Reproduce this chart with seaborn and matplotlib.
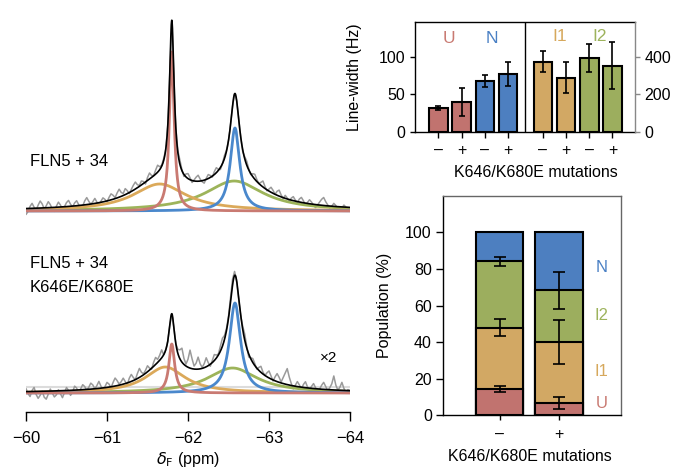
import numpy as np
import pandas as pd
import matplotlib.pyplot as plt
import seaborn as sns

W, H = 676, 472

# ---- 19F spectra: Lorentzian fit components (U, N, I1, I2)
STATES = ['U', 'N', 'I1', 'I2']
TOP_CENTERS = [-61.80, -62.58, -61.65, -62.57]
TOP_FWHM = [0.07, 0.14, 0.80, 0.88]
TOP_HEIGHTS = [159, 83, 27, 30]
BOT_CENTERS = [-61.80, -62.58, -61.72, -62.55]
BOT_FWHM = [0.085, 0.166, 0.60, 0.75]
BOT_HEIGHTS = [49, 90, 26, 25]
TOP_OFFSET = 201
BOT_OFFSET = 19

# residual of experimental trace vs. fit, every 0.025 ppm from -60 to -64
TOP_NOISE = [-6, -3, 2, 5, 1, -2, 3, 7, 4, -1, 2, 6, 3, -2, -4, 1, 5, 2, -3, 0,
             4, 6, 2, -1, 3, 5, 1, -3, -1, 4, 7, 3, 0, 2, 5, 1, -2, 1, 4, 2,
             -1, 3, 6, 4, 1, 5, 8, 4, 2, 6, 3, -1, 2, 5, 7, 3, 1, 4, 2, -2,
             3, 6, 2, 0, 4, 7, 3, 1, 2, 0, 0, 0, 0, 0, 0, 2, 4, 1, -2, 3,
             5, 2, -2, 1, 4, 6, 2, -1, -3, 1, 4, 2, -1, 3, 5, 1, -2, 0, 3, 1,
             0, 0, 0, 0, 0, 0, 0, -2, 2, 4, 1, -1, 3, 5, 2, 0, 3, 6, 2, -1,
             2, 5, 3, 0, 4, 6, 2, -1, 3, 1, -2, 2, 4, 1, -1, 3, 5, 2, -2, 1,
             4, 2, -1, -3, 0, 3, 6, 8, 4, 1, -2, 0, 3, 1, -2, -4, -1, 2, 0, -3,
             -2]
BOT_NOISE = [3, -2, -5, 1, 4, -3, -7, -4, 0, -6, -8, -3, 2, -2, -6, -4, 1, -3, -7, -2,
             3, 0, -5, -2, 4, 2, -3, 1, 5, 3, -1, 2, 6, 4, 0, 3, 7, 2, -2, 1,
             5, 3, -1, 4, 8, 5, 1, 3, 6, 2, -2, 4, 7, 3, 0, 5, 9, 4, 1, 3,
             6, 2, -1, 4, 7, 3, 5, 8, 0, 0, 0, 0, 0, 0, 0, 4, 9, 14, 6, 2,
             8, 18, 10, 3, 6, 12, 5, 1, 4, 9, 3, -2, 2, 6, 3, 1, 5, 8, 4, 2,
             2, 4, 6, 4, 0, -2, -1, 3, 6, 2, -3, 1, 4, 2, -1, 3, 6, 2, 0, 4,
             7, 3, -1, 4, 8, 5, 1, 6, 11, 16, 8, 2, -3, 1, 5, 2, -2, 3, 6, 1,
             -2, 2, 5, 1, -3, 0, 4, 7, 3, -1, 2, 6, 14, 5, 0, 3, 8, 2, -2, 1,
             0]

# ---- line widths (Hz)
LW_STATE = ['U', 'U', 'N', 'N', 'I1', 'I1', 'I2', 'I2']
LW_MUT = ['–', '+', '–', '+', '–', '+', '–', '+']
LW_POS = [0, 1, 2, 3, 4.5, 5.5, 6.5, 7.5]
LW_HZ = [32, 40, 68, 77, 375, 290, 395, 354]
LW_ERR = [2.5, 19, 8.5, 16, 57, 80, 74, 125]

# ---- populations (%)
MUT = ['–', '+']
POP_U = [14.4, 6.9]
POP_I1 = [33.5, 33.2]
POP_I2 = [36.2, 28.1]
POP_N = [15.9, 31.8]
ERR_U = [1.7, 3.2]
ERR_I1 = [4.7, 12.0]
ERR_I2 = [2.5, 10.0]

SPEC_COLORS = {'U': '#c97a72', 'N': '#4a88cc', 'I1': '#dba95a', 'I2': '#9db45a'}
BAR_COLORS = {'U': '#c1736f', 'N': '#4d7fc0', 'I1': '#d2a864', 'I2': '#9cae5e'}
TXT_COLORS = {'U': '#c97a72', 'N': '#4a80c4', 'I1': '#d6a85c', 'I2': '#9db35c'}

sns.set_style('ticks')
plt.rcParams['font.family'] = ['Liberation Sans', 'DejaVu Sans']
plt.rcParams.update({
    'axes.linewidth': 1.0, 'xtick.major.width': 1.0, 'ytick.major.width': 1.0,
    'text.color': 'black', 'axes.labelcolor': 'black', 'axes.edgecolor': 'black',
    'xtick.color': 'black', 'ytick.color': 'black',
})


def rect(x0, y0, x1, y1):
    return [x0 / W, 1 - y1 / H, (x1 - x0) / W, (y1 - y0) / H]


def lorentz(x, c, fwhm, h):
    hw = fwhm / 2
    return h * hw ** 2 / ((x - c) ** 2 + hw ** 2)


fig = plt.figure(figsize=(W / 100, H / 100), dpi=100)

# ================= spectra =================
ax = fig.add_axes(rect(26, 5, 350, 412))
x_fine = np.linspace(-60, -64, 2001)
x_grid = np.linspace(-60, -64, 161)

ax.plot([-60, -64], [BOT_OFFSET + 6.5] * 2, color='#dcdcdc', lw=1.5, zorder=1)

for off, cs, ws, hs, noise in [(TOP_OFFSET, TOP_CENTERS, TOP_FWHM, TOP_HEIGHTS, TOP_NOISE),
                               (BOT_OFFSET, BOT_CENTERS, BOT_FWHM, BOT_HEIGHTS, BOT_NOISE)]:
    fit_grid = sum(lorentz(x_grid, c, w, h) for c, w, h in zip(cs, ws, hs))
    sns.lineplot(x=x_grid, y=off + fit_grid + np.array(noise), color='#9a9a9a', lw=1.1, ax=ax, zorder=2)
    for st in ['I2', 'I1', 'N', 'U']:
        i = STATES.index(st)
        sns.lineplot(x=x_fine, y=off + lorentz(x_fine, cs[i], ws[i], hs[i]),
                     color=SPEC_COLORS[st], lw=2.0, ax=ax, zorder=3)
    fit = sum(lorentz(x_fine, c, w, h) for c, w, h in zip(cs, ws, hs))
    sns.lineplot(x=x_fine, y=off + fit, color='k', lw=1.2, ax=ax, zorder=4)

ax.set_xlim(-60, -64)
ax.set_ylim(0, 407)
ax.set_yticks([])
for s in ['left', 'top', 'right']:
    ax.spines[s].set_visible(False)
ax.set_xticks([-60, -61, -62, -63, -64])
ax.tick_params(axis='x', length=6.5, pad=7, labelsize=12)
ax.set_xlabel(r'$\delta_{\mathrm{F}}$ (ppm)', fontsize=11.5, labelpad=3)
ax.text(-60.05, 250, 'FLN5 + 34', fontsize=12, va='center', ha='left')
ax.text(-60.05, 149, 'FLN5 + 34', fontsize=12, va='center', ha='left')
ax.text(-60.05, 124, 'K646E/K680E', fontsize=12, va='center', ha='left')
ax.text(-63.73, 54, '×2', fontsize=11, va='center', ha='center')

# ================= line widths =================
df_lw = pd.DataFrame({'pos': LW_POS, 'hz': LW_HZ, 'err': LW_ERR, 'state': LW_STATE})
left = df_lw[df_lw['state'].isin(['U', 'N'])]
right = df_lw[df_lw['state'].isin(['I1', 'I2'])]

ax_lw = fig.add_axes(rect(415.3, 22.3, 635, 132))
sns.barplot(data=left, x='pos', y='hz', hue='state', palette=BAR_COLORS, native_scale=True,
            dodge=False, edgecolor='k', linewidth=1.5, saturation=1, legend=False, ax=ax_lw)
ax_lw.errorbar(left['pos'], left['hz'], yerr=left['err'], fmt='none', ecolor='k',
               elinewidth=1.2, capsize=2.5, capthick=1.2)
ax_r = ax_lw.twinx()
sns.barplot(data=right, x='pos', y='hz', hue='state', palette=BAR_COLORS, native_scale=True,
            dodge=False, edgecolor='k', linewidth=1.5, saturation=1, legend=False, ax=ax_r)
ax_r.errorbar(right['pos'], right['hz'], yerr=right['err'], fmt='none', ecolor='k',
              elinewidth=1.2, capsize=2.5, capthick=1.2)

ax_lw.axvline(3.75, color='k', lw=1.0)
ax_lw.set_xlim(-1.0, 8.47)
ax_lw.set_ylim(0, 146)
ax_r.set_ylim(0, 584)
ax_lw.set_yticks([0, 50, 100])
ax_r.set_yticks([0, 200, 400])
ax_lw.set_xticks(LW_POS)
ax_lw.set_xticklabels(LW_MUT)
ax_lw.tick_params(axis='y', length=3.5, labelsize=11.5)
ax_lw.tick_params(axis='x', length=4, pad=4, labelsize=11.5)
ax_r.tick_params(axis='y', length=3.5, labelsize=11.5, color='#888888')
ax_lw.spines['right'].set_visible(False)
for s in ['left', 'top', 'bottom']:
    ax_r.spines[s].set_visible(False)
ax_r.spines['right'].set_color('#888888')
ax_r.set_ylabel('')
ax_lw.set_ylabel('Line-width (Hz)', fontsize=11.5)
ax_lw.yaxis.set_label_coords(-0.243, 0.5)
ax_lw.set_xlabel('K646/K680E mutations', fontsize=11.5)
ax_lw.xaxis.set_label_coords(0.548, -0.30)
for st, xx, yy in [('U', 0.47, 125), ('N', 2.29, 125), ('I1', 5.21, 127), ('I2', 6.93, 127)]:
    ax_lw.text(xx, yy, st, color=TXT_COLORS[st], fontsize=12.5, ha='center', va='center')

# ================= populations =================
ax_pop = fig.add_axes(rect(443.3, 195.7, 621, 415.3))
top_u = np.array(POP_U)
top_i1 = top_u + np.array(POP_I1)
top_i2 = top_i1 + np.array(POP_I2)
top_n = top_i2 + np.array(POP_N)
for tops, st in [(top_n, 'N'), (top_i2, 'I2'), (top_i1, 'I1'), (top_u, 'U')]:
    sns.barplot(x=MUT, y=tops, color=BAR_COLORS[st], edgecolor='k', linewidth=1.5,
                width=0.8, saturation=1, ax=ax_pop)
for tops, err in [(top_u, ERR_U), (top_i1, ERR_I1), (top_i2, ERR_I2)]:
    ax_pop.errorbar([0, 1], tops, yerr=err, fmt='none', ecolor='k', elinewidth=1.2,
                    capsize=4.5, capthick=1.2, zorder=5)
ax_pop.set_xlim(-0.94, 2.03)
ax_pop.set_ylim(0, 120)
ax_pop.set_yticks([0, 20, 40, 60, 80, 100])
ax_pop.tick_params(axis='y', length=4.8, labelsize=11.5)
ax_pop.tick_params(axis='x', length=3.4, pad=5, labelsize=11.5)
ax_pop.set_ylabel('Population (%)', fontsize=11.5)
ax_pop.yaxis.set_label_coords(-0.289, 0.5)
ax_pop.set_xlabel('K646/K680E mutations', fontsize=11.5)
ax_pop.xaxis.set_label_coords(0.488, -0.155)
for s in ['top', 'right']:
    ax_pop.spines[s].set_color('#666666')
for st, yy in [('N', 81), ('I2', 54.5), ('I1', 23.9), ('U', 6.6)]:
    ax_pop.text(1.70, yy, st, color=TXT_COLORS[st], fontsize=12, ha='center', va='center')

fig.savefig('out.png', dpi=100)
